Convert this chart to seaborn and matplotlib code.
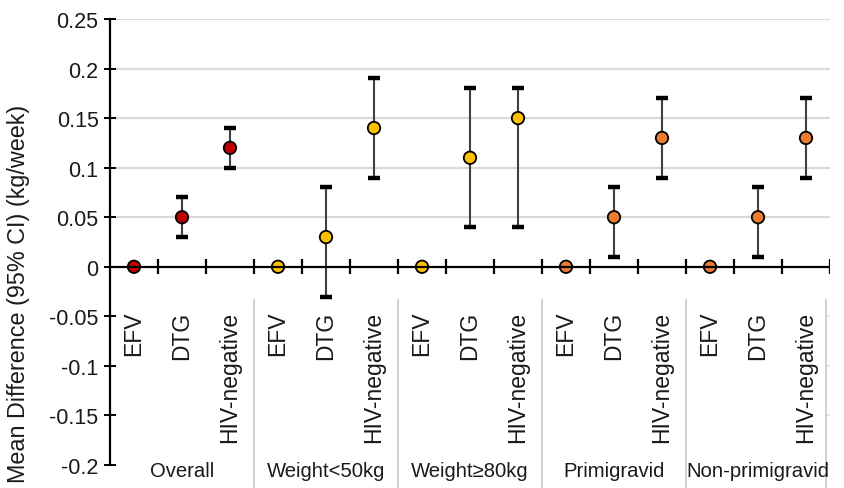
import matplotlib
matplotlib.use("Agg")
import matplotlib.pyplot as plt
import seaborn as sns
import pandas as pd
import numpy as np

# ---- data ----
groups = ["Overall", "Weight<50kg", "Weight≥80kg", "Primigravid", "Non-primigravid"]
categories = ["EFV", "DTG", "HIV-negative"]
means = [0.00, 0.05, 0.12,
         0.00, 0.03, 0.14,
         0.00, 0.11, 0.15,
         0.00, 0.05, 0.13,
         0.00, 0.05, 0.13]
lower = [np.nan, 0.03, 0.10,
         np.nan, -0.03, 0.09,
         np.nan, 0.04, 0.04,
         np.nan, 0.01, 0.09,
         np.nan, 0.01, 0.09]
upper = [np.nan, 0.07, 0.14,
         np.nan, 0.08, 0.19,
         np.nan, 0.18, 0.18,
         np.nan, 0.08, 0.17,
         np.nan, 0.08, 0.17]
group_colors = ["#C00000", "#FFC000", "#FFC000", "#ED7D31", "#ED7D31"]
y_ticks = [-0.2, -0.15, -0.1, -0.05, 0, 0.05, 0.1, 0.15, 0.2, 0.25]
y_tick_labels = ["-0.2", "-0.15", "-0.1", "-0.05", "0", "0.05", "0.1", "0.15", "0.2", "0.25"]

rows = []
for gi, g in enumerate(groups):
    for ci, c in enumerate(categories):
        k = gi * 3 + ci
        rows.append(dict(pos=k, group=g, cat=c, mean=means[k], lo=lower[k], hi=upper[k]))
df = pd.DataFrame(rows)

sns.set_theme(style="white")
plt.rcParams["font.family"] = ["Liberation Sans", "DejaVu Sans"]
TXT = "#1a1a1a"

fig = plt.figure(figsize=(8.45, 4.89), dpi=100)
ax = fig.add_axes([110 / 845, 1 - 466 / 489, 720 / 845, 446 / 489])

n = len(df)
ax.set_xlim(-0.5, n - 0.5)
ax.set_ylim(-0.2, 0.25)

# gridlines (only above zero)
for yv in y_ticks:
    if yv > 0:
        ax.axhline(yv, color="#D9D9D9", lw=1.6, zorder=0)
# tiny gridline stubs peeking out at the right edge below zero
for yv in y_ticks:
    if yv < 0:
        ax.plot([14.42, 14.5], [yv, yv], color="#E0E0E0", lw=1.2, zorder=0)

# error bars
ci_df = df.dropna(subset=["lo"])
ax.errorbar(ci_df["pos"], ci_df["mean"],
            yerr=[ci_df["mean"] - ci_df["lo"], ci_df["hi"] - ci_df["mean"]],
            fmt="none", ecolor="#404040", elinewidth=1.5, capsize=0, zorder=2)
# caps
ax.errorbar(ci_df["pos"], ci_df["lo"], xerr=0.125, fmt="none", ecolor="black",
            elinewidth=3.2, zorder=3)
ax.errorbar(ci_df["pos"], ci_df["hi"], xerr=0.125, fmt="none", ecolor="black",
            elinewidth=3.2, zorder=3)

# points
palette = {g: c for g, c in zip(groups, group_colors)}
sns.scatterplot(data=df, x="pos", y="mean", hue="group", palette=palette,
                s=80, edgecolor="black", linewidth=1.3, legend=False, ax=ax, zorder=4)

# zero axis line with crossing category ticks
ax.axhline(0, color="black", lw=1.6, zorder=5)
bounds = np.arange(0.5, n, 1.0)
ax.vlines(bounds, -0.0075, 0.0075, color="black", lw=1.6, zorder=5)

# spines
for s in ["top", "right", "bottom"]:
    ax.spines[s].set_visible(False)
ax.spines["left"].set_color("black")
ax.spines["left"].set_linewidth(1.6)
ax.set_yticks(y_ticks)
ax.set_yticklabels(y_tick_labels, fontsize=15.5, color=TXT)
ax.tick_params(axis="y", direction="inout", length=8.5, width=1.4, color="black",
               left=True, pad=4)
ax.set_xticks([])
ax.set_xlabel("")
ax.set_ylabel("Mean Difference (95% CI) (kg/week)", fontsize=16.8, color=TXT)
ax.yaxis.set_label_coords(-0.111, 0.385)

# category labels
for _, r in df.iterrows():
    ax.text(r["pos"], -0.044, r["cat"], rotation=90, ha="center", va="top",
            fontsize=16.5, color=TXT)

# group separators and labels
for b in [2.5, 5.5, 8.5, 11.5, 14.42]:
    ax.plot([b, b], [-0.034, -0.222], color="#D0D0D0", lw=1.4, clip_on=False, zorder=1)
for gi, g in enumerate(groups):
    ax.text(gi * 3 + 1, -0.2055, g, ha="center", va="center", fontsize=14.6,
            color=TXT, clip_on=False)

fig.savefig("out.png", dpi=100, facecolor="white")
